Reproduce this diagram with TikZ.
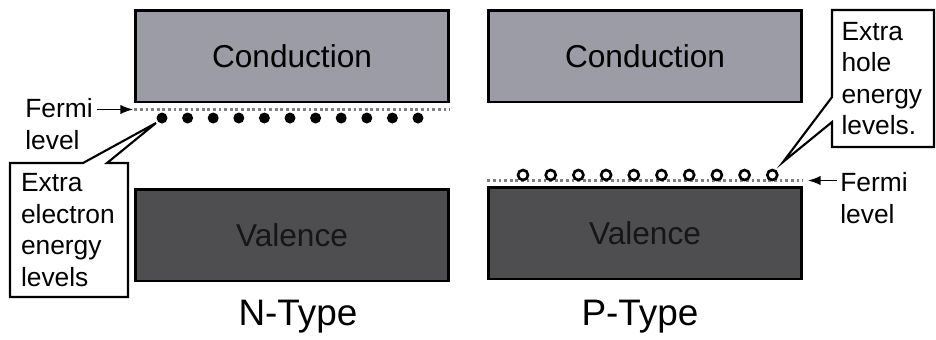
\documentclass[tikz,border=0pt]{standalone}
\usepackage{fontspec}
\setmainfont{Liberation Sans}
\usepackage{xcolor}
\usepackage{tikz}
\usetikzlibrary{arrows.meta, calc}

\definecolor{condgray}{RGB}{156,156,166}
\definecolor{valgray}{RGB}{78,78,80}
\definecolor{valtext}{RGB}{22,22,24}

\begin{document}
\begin{tikzpicture}[x=0.02cm, y=-0.02cm,
  band/.style={rectangle, draw, line width=1.7pt, minimum width=6.25cm, minimum height=1.84cm, font=\fontsize{18}{21}\selectfont},
  cband/.style={band, fill=condgray},
  vband/.style={band, fill=valgray, text=valtext},
  fermi/.style={draw=black!50, line width=1.5pt, dash pattern=on 1.6pt off 1.6pt},
  side/.style={inner sep=0pt, align=left, font=\fontsize{15}{18}\selectfont},
  note/.style={rectangle, inner ysep=0pt, outer sep=0pt, align=left, font=\fontsize{15}{18}\selectfont},
  outline/.style={line width=1.2pt, line join=miter},
  arrow/.style={-{Latex[length=2.6mm, width=1.9mm]}, line width=1.1pt},
  typename/.style={font=\fontsize{21}{25}\selectfont}
]
 \useasboundingbox (0,0) rectangle (936,339);

 % N-type bands
 \node[cband] (nc) at (292,56) {Conduction};
 \node[vband] (nv) at (292,235) {Valence};
 \coordinate (nfa) at ($(nc.south west)+(0,6)$);
 \coordinate (nfb) at ($(nc.south east)+(0,6)$);
 \draw[fermi] (nfa) -- (nfb);
 \foreach \i in {0,...,10}
   \fill (162+25.6*\i,118) circle[radius=0.11cm];

 \node[side, anchor=north west] (nfermi) at (25,98) {Fermi\\level};
 \draw[arrow] ($(nfermi.east |- nfa)+(4,0)$) -- ($(nfa)+(-1,0)$);

 \node[note, text width=1.92cm, inner xsep=0.22cm, minimum height=2.68cm] (nnote) at (69,230) {Extra\\electron\\energy\\levels};
 \coordinate (ntip) at (156,123);
 \draw[outline] (nnote.north west) -- ($(nnote.north west)+(73,0)$) -- (ntip)
   -- ($(nnote.north west)+(97,0)$) -- (nnote.north east) -- (nnote.south east)
   -- (nnote.south west) -- cycle;

 \node[typename, anchor=base] (ntype) at (298,325) {N-Type};

 % P-type bands
 \node[cband] (pc) at (645,56) {Conduction};
 \node[vband] (pv) at (645,233) {Valence};
 \coordinate (pfa) at ($(pv.north west)+(0,-5)$);
 \coordinate (pfb) at ($(pv.north east)+(0,-5)$);
 \draw[fermi] (pfa) -- (pfb);
 \foreach \i in {0,...,9}
   \draw[line width=1.5pt] (523+27.7*\i,175) circle[radius=0.1cm];

 \node[side, anchor=north west] (pfermi) at (840,172) {Fermi\\level};
 \draw[arrow] ($(pfermi.west |- pfa)+(-3,0)$) -- ($(pfb)+(5,0)$);

 \node[note, text width=1.66cm, inner xsep=0.19cm, minimum height=2.74cm] (pnote) at (883,78.5) {Extra\\hole\\energy\\levels.};
 \coordinate (ptip) at (783,162);
 \draw[outline] (pnote.north west) -- ($(pnote.north west)+(0,87)$) -- (ptip)
   -- ($(pnote.north west)+(0,112)$) -- (pnote.south west) -- (pnote.south east)
   -- (pnote.north east) -- cycle;

 \node[typename, anchor=base] (ptype) at (640,325) {P-Type};
\end{tikzpicture}
\end{document}
